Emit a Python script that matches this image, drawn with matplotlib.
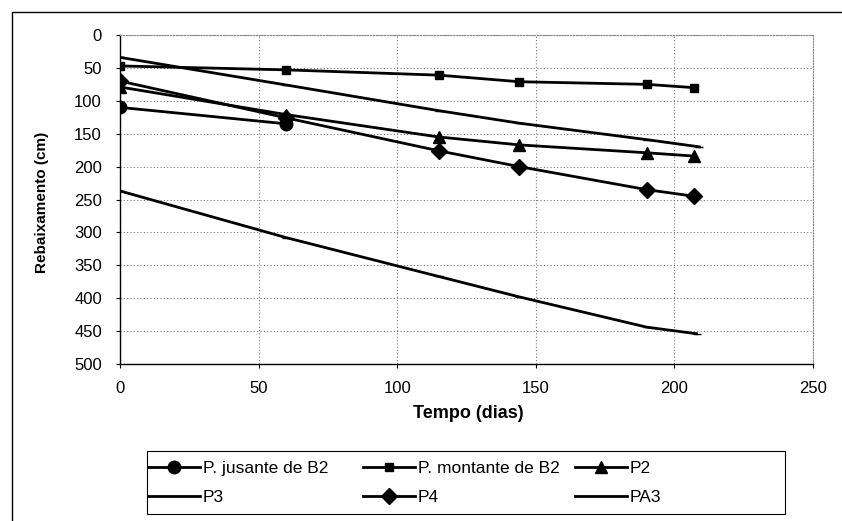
import matplotlib
matplotlib.use("Agg")
import matplotlib.pyplot as plt
from matplotlib.patches import Rectangle

plt.rcParams['font.family'] = ['Liberation Sans', 'DejaVu Sans']

# Tempo (dias) e rebaixamento (cm) por poço
t_jusante = [0, 60]
r_jusante = [110, 135]

t_montante = [0, 60, 115, 144, 190, 207]
r_montante = [47, 53, 61, 71, 75, 80]

t_p2 = [0, 60, 115, 144, 190, 207]
r_p2 = [79, 121, 155, 167, 179, 184]

t_p3 = [0, 60, 115, 144, 190, 209]
r_p3 = [34, 76, 115, 134, 159, 170]

t_p4 = [0, 60, 115, 144, 190, 207]
r_p4 = [70, 126, 176, 200, 235, 245]

t_pa3 = [0, 60, 115, 144, 190, 208]
r_pa3 = [237, 308, 367, 398, 444, 454]

W, H = 842, 521
fig = plt.figure(figsize=(W / 100, H / 100), dpi=100)
fig.patch.set_facecolor('white')

# outer chart frame (runs past the right and bottom edges)
fig.add_artist(Rectangle((12 / W, -0.1), 1.2, 1.1 - 12 / H,
                         transform=fig.transFigure, fill=False,
                         edgecolor='black', linewidth=1.0))

ax = fig.add_axes([120 / W, 1 - 364 / H, 693 / W, 329 / H])

lw = 2.0
h_jus, = ax.plot(t_jusante, r_jusante, color='black', lw=lw, marker='o', ms=9)
h_mon, = ax.plot(t_montante, r_montante, color='black', lw=lw, marker='s', ms=6)
h_p2, = ax.plot(t_p2, r_p2, color='black', lw=lw, marker='^', ms=8)
h_p3, = ax.plot(t_p3, r_p3, color='black', lw=lw, marker='_', ms=6)
h_p4, = ax.plot(t_p4, r_p4, color='black', lw=lw, marker='D', ms=8)
h_pa3, = ax.plot(t_pa3, r_pa3, color='black', lw=lw, marker='_', ms=6)

ax.set_xlim(0, 250)
ax.set_ylim(500, 0)
ax.set_xticks([0, 50, 100, 150, 200, 250])
ax.set_yticks(range(0, 501, 50))
ax.grid(True, color='#777777', linestyle=(0, (1, 2)), linewidth=0.8)
ax.set_axisbelow(True)

for side in ('top', 'right'):
    ax.spines[side].set_linestyle((0, (1, 1.5)))
    ax.spines[side].set_color('#888888')
    ax.spines[side].set_linewidth(0.8)
for side in ('left', 'bottom'):
    ax.spines[side].set_color('black')
    ax.spines[side].set_linewidth(1.0)

ax.tick_params(axis='both', labelsize=12, length=3, direction='out', color='black')
ax.tick_params(axis='x', pad=9)
ax.tick_params(axis='y', pad=10)
ax.set_xlabel('Tempo (dias)', fontsize=13, fontweight='bold', va='center')
ax.xaxis.set_label_coords(0.503, -0.149)
ax.set_ylabel('Rebaixamento (cm)', fontsize=11, fontweight='bold', va='center')
ax.yaxis.set_label_coords(-0.1126, 0.49)

# legend: three equal-width columns inside one frame
fig.add_artist(Rectangle((147 / W, 1 - 514 / H), (785 - 147) / W, (514 - 451) / H,
                         transform=fig.transFigure, fill=False,
                         edgecolor='black', linewidth=0.8))
columns = [
    ([h_jus, h_p3], ['P. jusante de B2', 'P3'], 148),
    ([h_mon, h_p4], ['P. montante de B2', 'P4'], 363),
    ([h_p2, h_pa3], ['P2', 'PA3'], 575),
]
for handles, labels, x0 in columns:
    fig.legend(handles, labels, loc='upper left',
               bbox_to_anchor=(x0 / W, 1 - 461 / H),
               frameon=False, fontsize=12.5, handlelength=3.0,
               handletextpad=0.15, borderpad=0, borderaxespad=0,
               labelspacing=0.8)

fig.savefig('out.png', dpi=100, facecolor='white')
